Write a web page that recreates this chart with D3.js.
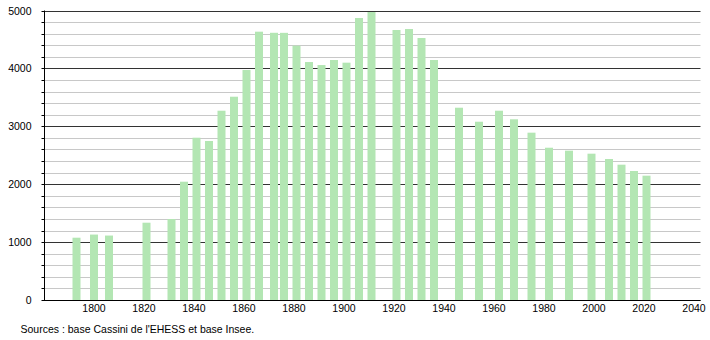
<!DOCTYPE html>
<html>
<head>
<meta charset="utf-8">
<script src="https://cdn.jsdelivr.net/npm/d3@7"></script>
<style>
  body { margin: 0; background: #fff; }
  text { font-family: "Liberation Sans", Arial, sans-serif; }
</style>
</head>
<body>
<div id="chart"></div>
<script>

// census years and population
var years = [1793, 1800, 1806, 1821, 1831, 1836, 1841, 1846, 1851, 1856,
  1861, 1866, 1872, 1876, 1881, 1886, 1891, 1896, 1901, 1906,
  1911, 1921, 1926, 1931, 1936, 1946, 1954, 1962, 1968, 1975,
  1982, 1990, 1999, 2006, 2011, 2016, 2021];
var population = [1076, 1130, 1113, 1335, 1399, 2043, 2803, 2746, 3269, 3511,
  3972, 4634, 4615, 4614, 4392, 4110, 4058, 4145, 4099, 4870,
  4974, 4663, 4680, 4525, 4145, 3321, 3079, 3269, 3121, 2890,
  2630, 2579, 2527, 2435, 2337, 2228, 2147];

var xTicks = [1800, 1820, 1840, 1860, 1880, 1900, 1920, 1940, 1960, 1980, 2000, 2020, 2040];
var yMajor = [0, 1000, 2000, 3000, 4000, 5000];
var yMinor = d3.range(0, 5001, 200);

var sourceText = "Sources : base Cassini de l'EHESS et base Insee.";

var width = 710, height = 340;
var margin = {top: 10.5, right: 9.5, bottom: 40, left: 44};

var svg = d3.select("#chart").append("svg")
  .attr("width", width)
  .attr("height", height);

var x = d3.scaleLinear()
  .domain([1780, 2042.6])
  .range([margin.left, width - margin.right]);

var y = d3.scaleLinear()
  .domain([0, 5000])
  .range([height - margin.bottom, margin.top]);

var data = years.map(function(d, i) {
  return {year: d, pop: population[i]};
});

// minor grid
svg.append("g")
  .selectAll("line")
  .data(yMinor.filter(function(d) { return d % 1000 != 0; }))
  .enter().append("line")
  .attr("x1", x.range()[0])
  .attr("x2", x.range()[1])
  .attr("y1", function(d) { return Math.round(y(d)) + 0.5; })
  .attr("y2", function(d) { return Math.round(y(d)) + 0.5; })
  .attr("stroke", "#c8c8c8")
  .attr("stroke-width", 1);

// major grid
svg.append("g")
  .selectAll("line")
  .data(yMajor)
  .enter().append("line")
  .attr("x1", x.range()[0])
  .attr("x2", x.range()[1])
  .attr("y1", function(d) { return Math.round(y(d)) + 0.5; })
  .attr("y2", function(d) { return Math.round(y(d)) + 0.5; })
  .attr("stroke", "#333")
  .attr("stroke-width", 1);

// bars
var barW = 8;
svg.append("g")
  .selectAll("rect")
  .data(data)
  .enter().append("rect")
  .attr("x", function(d) { return x(d.year) - barW / 2; })
  .attr("y", function(d) { return y(d.pop); })
  .attr("width", barW)
  .attr("height", function(d) { return y(0) - y(d.pop); })
  .attr("fill", "#b3e6b3");

// Y axis
var yAxis = svg.append("g")
  .attr("transform", "translate(" + (margin.left + 0.5) + ",0)");

yAxis.append("line")
  .attr("x1", 0).attr("x2", 0)
  .attr("y1", y(5000)).attr("y2", y(0))
  .attr("stroke", "#000");

yAxis.selectAll(".minor")
  .data(yMinor)
  .enter().append("line")
  .attr("class", "minor")
  .attr("x1", -3).attr("x2", 0)
  .attr("y1", function(d) { return Math.round(y(d)) + 0.5; })
  .attr("y2", function(d) { return Math.round(y(d)) + 0.5; })
  .attr("stroke", "#000");

yAxis.selectAll("text")
  .data(yMajor)
  .enter().append("text")
  .attr("x", -13)
  .attr("y", function(d) { return y(d) + 4; })
  .attr("text-anchor", "end")
  .attr("font-size", "10.5px")
  .attr("fill", "#000")
  .text(function(d) { return d; });

// X axis
svg.append("line")
  .attr("x1", x.range()[0]).attr("x2", x.range()[1])
  .attr("y1", Math.round(y(0)) + 0.5).attr("y2", Math.round(y(0)) + 0.5)
  .attr("stroke", "#000");

svg.append("g")
  .selectAll("text")
  .data(xTicks)
  .enter().append("text")
  .attr("x", function(d) { return x(d); })
  .attr("y", y(0) + 12)
  .attr("text-anchor", "middle")
  .attr("font-size", "10.5px")
  .attr("fill", "#000")
  .text(function(d) { return d; });

// sources
svg.append("text")
  .attr("x", 20.5)
  .attr("y", 333)
  .attr("font-size", "10.5px")
  .attr("fill", "#000")
  .text(sourceText);

</script>
</body>
</html>
